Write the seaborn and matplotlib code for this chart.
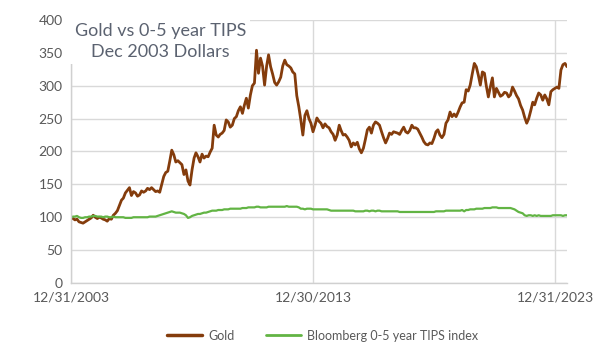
import pandas as pd
import numpy as np
import matplotlib.pyplot as plt
import seaborn as sns
from matplotlib.lines import Line2D

# ==================== data (monthly, Dec 2003 = 100) ====================
start_date = "2003-12-31"

gold = [
    100,
    98, 96, 97, 93, 92, 91, 93, 95, 97, 99, 103, 100,            # 2004
    98, 100, 99, 97, 96, 94, 98, 97, 103, 106, 110, 118,         # 2005
    126, 129, 137, 141, 145, 133, 139, 137, 132, 134, 140, 138,  # 2006
    140, 144, 142, 145, 142, 139, 140, 138, 150, 162, 168, 170,  # 2007
    186, 202, 195, 184, 186, 183, 180, 165, 172, 155, 149, 172,  # 2008
    190, 198, 192, 184, 196, 190, 193, 192, 199, 205, 240, 225,  # 2009
    222, 226, 228, 232, 248, 245, 237, 240, 250, 253, 262, 268,  # 2010
    258, 270, 281, 266, 286, 300, 304, 354, 319, 342, 330, 301,  # 2011
    330, 347, 329, 318, 305, 301, 306, 313, 330, 339, 332, 330,  # 2012
    327, 321, 318, 285, 268, 248, 225, 255, 262, 250, 243, 230,  # 2013
    240, 251, 246, 243, 236, 242, 238, 236, 230, 226, 217, 225,  # 2014
    240, 232, 225, 226, 222, 217, 207, 213, 210, 214, 204, 198,  # 2015
    205, 218, 233, 237, 228, 240, 245, 243, 240, 230, 221, 213,  # 2016
    220, 228, 226, 230, 229, 228, 226, 232, 237, 230, 228, 232,  # 2017
    240, 236, 236, 234, 228, 222, 215, 211, 210, 213, 212, 220,  # 2018
    230, 233, 225, 221, 226, 243, 248, 260, 253, 257, 253, 260,  # 2019
    268, 274, 275, 294, 292, 301, 318, 334, 329, 316, 301, 321,  # 2020
    319, 300, 283, 298, 312, 283, 296, 290, 284, 286, 290, 289,  # 2021
    283, 286, 298, 292, 285, 280, 270, 263, 252, 243, 250, 262,  # 2022
    275, 271, 281, 289, 286, 278, 286, 280, 271, 291, 294, 296,  # 2023
    298, 296, 324, 332, 334, 329,                                # 2024
]

tips = [
    100,
    101, 101, 102, 100, 99, 99, 100, 100, 101, 101, 102, 102,    # 2004
    101, 101, 101, 100, 101, 101, 100, 100, 101, 100, 100, 100,  # 2005
    100, 100, 99, 99, 99, 99, 100, 100, 100, 100, 100, 100,      # 2006
    100, 100, 101, 101, 101, 101, 102, 103, 104, 105, 106, 107,  # 2007
    108, 109, 108, 107, 107, 107, 106, 105, 103, 99, 100, 102,   # 2008
    103, 104, 105, 105, 106, 107, 107, 108, 109, 110, 110, 110,  # 2009
    111, 111, 111, 112, 112, 112, 113, 113, 113, 113, 113, 113,  # 2010
    114, 114, 114, 115, 115, 115, 115, 116, 116, 115, 115, 115,  # 2011
    115, 116, 116, 116, 116, 116, 116, 116, 116, 116, 117, 116,  # 2012
    116, 116, 116, 116, 115, 113, 113, 112, 113, 113, 113, 112,  # 2013
    112, 112, 112, 112, 112, 112, 112, 111, 110, 110, 110, 110,  # 2014
    110, 110, 110, 110, 110, 110, 110, 110, 109, 109, 109, 109,  # 2015
    109, 110, 110, 109, 110, 110, 109, 110, 110, 109, 109, 109,  # 2016
    109, 109, 109, 109, 109, 109, 108, 108, 108, 108, 108, 108,  # 2017
    108, 108, 108, 108, 108, 108, 108, 108, 108, 108, 108, 108,  # 2018
    109, 109, 109, 109, 109, 110, 110, 110, 110, 110, 110, 110,  # 2019
    110, 111, 109, 111, 111, 112, 112, 112, 113, 113, 113, 113,  # 2020
    114, 114, 114, 114, 115, 115, 115, 114, 114, 114, 114, 114,  # 2021
    114, 114, 113, 112, 110, 108, 107, 106, 103, 102, 103, 103,  # 2022
    102, 103, 102, 103, 102, 102, 102, 102, 102, 102, 103, 103,  # 2023
    103, 103, 103, 102, 103, 103,                                # 2024
]

tick_dates = ["2003-12-31", "2013-12-30", "2023-12-31"]
tick_labels = ["12/31/2003", "12/30/2013", "12/31/2023"]
series_names = ["Gold", "Bloomberg 0-5 year TIPS index"]

# ==================== plot ====================
dates = pd.date_range(start_date, periods=len(gold), freq="ME")
df = pd.DataFrame({"Date": dates, series_names[0]: gold, series_names[1]: tips})
df_long = df.melt(id_vars="Date", var_name="Series", value_name="Value")

sns.set_theme(style="white")
plt.rcParams["font.family"] = ["Lato", "DejaVu Sans"]

fig = plt.figure(figsize=(6.09, 3.54), dpi=100)
ax = fig.add_axes([0.1166, 0.2006, 0.8144, 0.7429])

palette = {series_names[0]: "#843C0C", series_names[1]: "#62B444"}
sns.lineplot(data=df_long, x="Date", y="Value", hue="Series", palette=palette,
             ax=ax, legend=False)
ax.lines[0].set_linewidth(2.0)
ax.lines[1].set_linewidth(1.6)

grey = "#595959"
ax.set_ylim(0, 400)
ax.set_yticks(range(0, 401, 50))
ax.set_xlim(dates[0], dates[-1])
ax.set_xticks(pd.to_datetime(tick_dates))
ax.set_xticklabels(tick_labels)
ax.tick_params(axis="both", colors=grey, labelsize=10, length=0, pad=6)
ax.set_xlabel("")
ax.set_ylabel("")
ax.grid(True, color="#D9D9D9", linewidth=1)
ax.set_axisbelow(True)
for s in ["top", "right"]:
    ax.spines[s].set_visible(False)
for s in ["left", "bottom"]:
    ax.spines[s].set_color("#D0D0D0")
    ax.spines[s].set_linewidth(1)

# title box sits on top of the upper gridlines
ax.text(0.18, 0.99, "Gold vs 0-5 year TIPS\nDec 2003 Dollars", transform=ax.transAxes,
        ha="center", va="top", fontsize=13, color="#5B6270", linespacing=1.4,
        bbox=dict(facecolor="white", edgecolor="none", pad=3))

handles = [Line2D([], [], color=palette[n], linewidth=2.5 if i == 0 else 2)
           for i, n in enumerate(series_names)]
fig.legend(handles, series_names, loc="center", bbox_to_anchor=(0.53, 0.052),
           ncol=2, frameon=False, fontsize=9, labelcolor=grey,
           handlelength=2.8, columnspacing=2.5, handletextpad=0.5)

fig.savefig("out.png", dpi=100)
